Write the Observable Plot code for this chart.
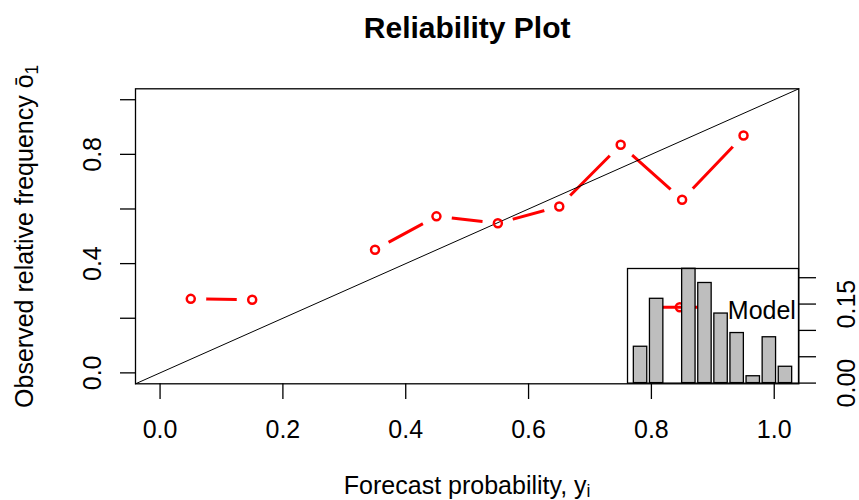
<!DOCTYPE html>
<html><head><meta charset="utf-8">
<script src="https://cdn.jsdelivr.net/npm/d3@7"></script>
<script src="https://cdn.jsdelivr.net/npm/@observablehq/plot@0.6"></script>
<style>
html,body{margin:0;padding:0;background:#fff;}
#chart{position:relative;width:859px;height:500px;font-family:"Liberation Sans",Arial,sans-serif;}
#chart svg{position:absolute;}
</style></head><body><div id="chart"></div>
<script>
// ---- data ----
const binCenters = [0.05, 0.15, 0.25, 0.35, 0.45, 0.55, 0.65, 0.75, 0.85, 0.95];
const observedFreq = [0.271, 0.268, null, 0.451, 0.573, 0.548, 0.609, 0.835, 0.634, 0.869];
const histFreq = [0.069, 0.160, 0, 0.217, 0.190, 0.132, 0.095, 0.013, 0.087, 0.031];
const xTicks = [0, 0.2, 0.4, 0.6, 0.8, 1.0];
const yTicks = [0, 0.2, 0.4, 0.6, 0.8, 1.0];
const yTickLabels = [0, 0.4, 0.8];
const histTicks = [0, 0.05, 0.10, 0.15, 0.20];
const histTickLabels = [0, 0.15];
const titleText = "Reliability Plot";
const xLabel = "Forecast probability, y";
const xLabelSub = "i";
const yLabel = "Observed relative frequency ";
const yLabelBar = "\u014D";
const yLabelSub = "1";
const legendLabel = "Model";

// ---- derived ----
const points = binCenters.map((x, i) => ({x, y: observedFreq[i]}));
const valid = points.filter(d => d.y != null);
const domain = [-0.04, 1.04];
const diag = domain.map(v => ({x: v, y: v}));
const histRows = histFreq.map((v, i) => ({i, x1: 0.2 + 1.2 * i, x2: 1.2 + 1.2 * i, y: v}));

const FONT = '"Liberation Sans", Arial, sans-serif';
const lineSym = {draw(ctx) { ctx.moveTo(-19, 0); ctx.lineTo(19, 0); }};

const main = Plot.plot({
  width: 859, height: 500,
  marginLeft: 135, marginRight: 60.7, marginTop: 88.3, marginBottom: 116.7,
  x: {domain},
  y: {domain},
  style: {fontFamily: FONT, fontSize: "25px", background: "transparent", overflow: "visible", color: "black"},
  marks: [
    Plot.line(points, {x: "x", y: "y", stroke: "red", strokeWidth: 3}),
    Plot.dot(valid, {x: "x", y: "y", r: 15.5, fill: "white", stroke: "none"}),
    Plot.line(diag, {x: "x", y: "y", stroke: "black", strokeWidth: 1}),
    Plot.dot(valid, {x: "x", y: "y", r: 4, stroke: "red", strokeWidth: 2.5, fill: "none"}),
    // legend
    Plot.dot([legendLabel], {frameAnchor: "bottom-right", dx: -119, dy: -76.6, symbol: lineSym, stroke: "red", strokeWidth: 3, fill: "none"}),
    Plot.dot([legendLabel], {frameAnchor: "bottom-right", dx: -119, dy: -76.6, r: 4, stroke: "red", strokeWidth: 2.5, fill: "none"}),
    Plot.text([legendLabel], {text: d => d, frameAnchor: "bottom-right", dx: -71, dy: -65, textAnchor: "start", lineAnchor: "bottom", fill: "black"}),
    Plot.frame({stroke: "black", strokeWidth: 1.3}),
    Plot.axisX({ticks: xTicks, tickSize: 15.7, tickPadding: 21, tickFormat: d => d.toFixed(1), label: null, strokeWidth: 1.3, fill: "black"}),
    Plot.axisY({ticks: yTicks, tickSize: 15, tickFormat: () => "", label: null, strokeWidth: 1.3}),
    Plot.text(yTickLabels, {y: d => d, text: d => d.toFixed(1), frameAnchor: "left", dx: -35, rotate: -90, textAnchor: "middle", lineAnchor: "bottom", fill: "black"}),
    Plot.text([titleText], {text: d => d, frameAnchor: "top", dy: -51.3, lineAnchor: "bottom", fontWeight: "bold", fontSize: 30, fill: "black"}),
    Plot.text([xLabel], {text: d => d, frameAnchor: "bottom", dy: 110.5, lineAnchor: "bottom", fill: "black"}),
    Plot.text([yLabel], {text: d => d, frameAnchor: "left", dx: -103, rotate: -90, textAnchor: "middle", lineAnchor: "bottom", fill: "black"})
  ]
});

const inset = Plot.plot({
  width: 171 + 61, height: 114.6,
  marginLeft: 0, marginTop: 0, marginBottom: 0, marginRight: 61,
  x: {domain: [-0.272, 12.472], axis: null},
  y: {domain: [0, 0.2175]},
  style: {fontFamily: FONT, fontSize: "25px", background: "transparent", overflow: "visible", color: "black"},
  marks: [
    Plot.rectY(histRows, {x1: "x1", x2: "x2", y: "y", fill: "#bebebe", stroke: "black", strokeWidth: 1.3}),
    Plot.frame({stroke: "black", strokeWidth: 1.3}),
    Plot.axisY({anchor: "right", ticks: histTicks, tickSize: 17, tickFormat: () => "", label: null, strokeWidth: 1.3}),
    Plot.text(histTickLabels, {y: d => d, text: d => d.toFixed(2), frameAnchor: "right", dx: 56.7, rotate: -90, textAnchor: "middle", lineAnchor: "bottom", fill: "black"})
  ]
});

const chart = document.getElementById("chart");
main.style.left = "0px"; main.style.top = "0px";
inset.style.left = "627.3px"; inset.style.top = "267.7px";
chart.appendChild(main);
chart.appendChild(inset);

// rich text (subscripts / overbar)
const NS = "http://www.w3.org/2000/svg";
function addTspan(t, txt, attrs) {
  const s = document.createElementNS(NS, "tspan");
  for (const k in attrs) s.setAttribute(k, attrs[k]);
  s.textContent = txt;
  t.appendChild(s);
  return s;
}
const texts = Array.from(main.querySelectorAll("text"));
const xt = texts.find(t => t.textContent === xLabel);
if (xt) addTspan(xt, xLabelSub, {dy: "0.15em", "font-size": "0.7em"});
const yt = texts.find(t => t.textContent === yLabel);
if (yt) {
  yt.setAttribute("xml:space", "preserve");
  addTspan(yt, yLabelBar, {});
  addTspan(yt, yLabelSub, {dy: "0.3em", "font-size": "0.7em"});
}
</script>
</body></html>
